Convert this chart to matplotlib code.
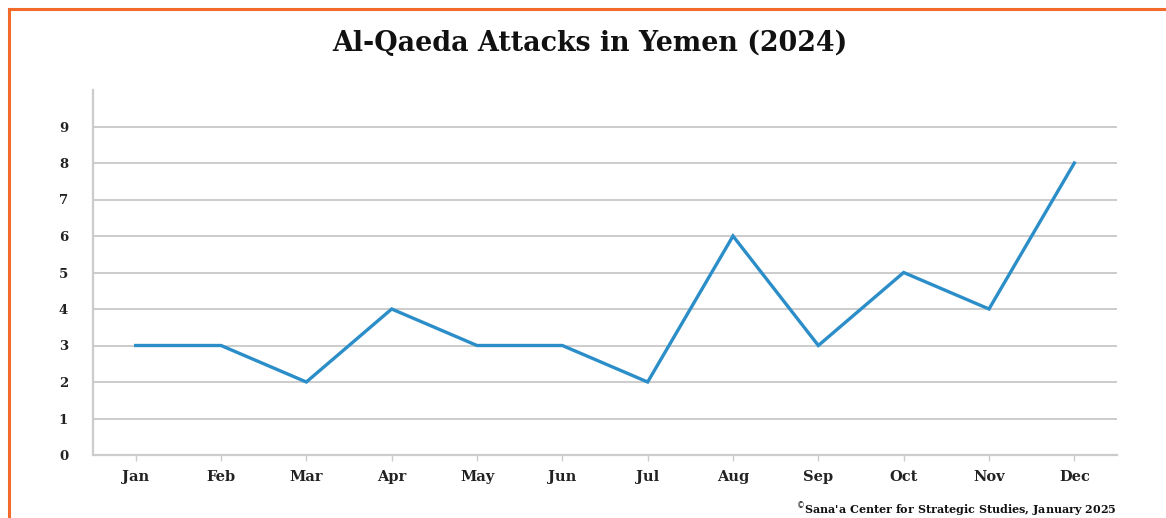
import matplotlib
matplotlib.use("Agg")
import matplotlib.pyplot as plt
from matplotlib.lines import Line2D

months = ['Jan', 'Feb', 'Mar', 'Apr', 'May', 'Jun',
          'Jul', 'Aug', 'Sep', 'Oct', 'Nov', 'Dec']
attacks = [3, 3, 2, 4, 3, 3, 2, 6, 3, 5, 4, 8]
yticks = list(range(0, 10))

line_color = '#2b8ec8'
grid_color = '#cccccc'
orange = '#f26b2a'

plt.rcParams['font.family'] = ['DejaVu Serif']

fig = plt.figure(figsize=(11.66, 5.18), dpi=100)
ax = fig.add_axes([93/1166, 1 - 455/518, (1117-93)/1166, (455-90)/518])

ax.plot(range(len(months)), attacks, color=line_color, linewidth=2.4,
        solid_joinstyle='miter', zorder=3)

ax.set_xlim(-0.5, 11.5)
ax.set_ylim(0, 10)
ax.set_xticks(range(len(months)))
ax.set_xticklabels(months, fontsize=10.5, fontweight='bold', color='#222222')
ax.set_yticks(yticks)
ax.set_yticklabels([str(v) for v in yticks], fontsize=9.5, fontweight='bold', color='#222222')

for v in yticks[1:]:
    ax.axhline(v, color=grid_color, linewidth=1.4, zorder=1)

for s in ['top', 'right']:
    ax.spines[s].set_visible(False)
ax.spines['left'].set_color(grid_color)
ax.spines['bottom'].set_color(grid_color)
ax.spines['left'].set_linewidth(1.6)
ax.spines['bottom'].set_linewidth(1.6)
ax.tick_params(axis='x', length=4, width=1, color=grid_color, pad=7)
ax.tick_params(axis='y', length=0, pad=18)

fig.text(590/1166, 1 - 43/518, 'Al-Qaeda Attacks in Yemen (2024)',
         ha='center', va='center', fontsize=19.4, fontweight='bold', color='#111111')
fig.text(1117/1166, 1 - 510/518,
         r"$^{\copyright}$Sana'a Center for Strategic Studies, January 2025",
         ha='right', va='center', fontsize=8, fontweight='bold', color='#111111')

# orange frame (top and left edges)
fig.add_artist(Line2D([9/1166, 9/1166], [0, 1 - 9/518], color=orange, linewidth=2.2,
                      transform=fig.transFigure))
fig.add_artist(Line2D([9/1166, 1], [1 - 9/518, 1 - 9/518], color=orange, linewidth=2.2,
                      transform=fig.transFigure))

fig.savefig('out.png', dpi=100)
